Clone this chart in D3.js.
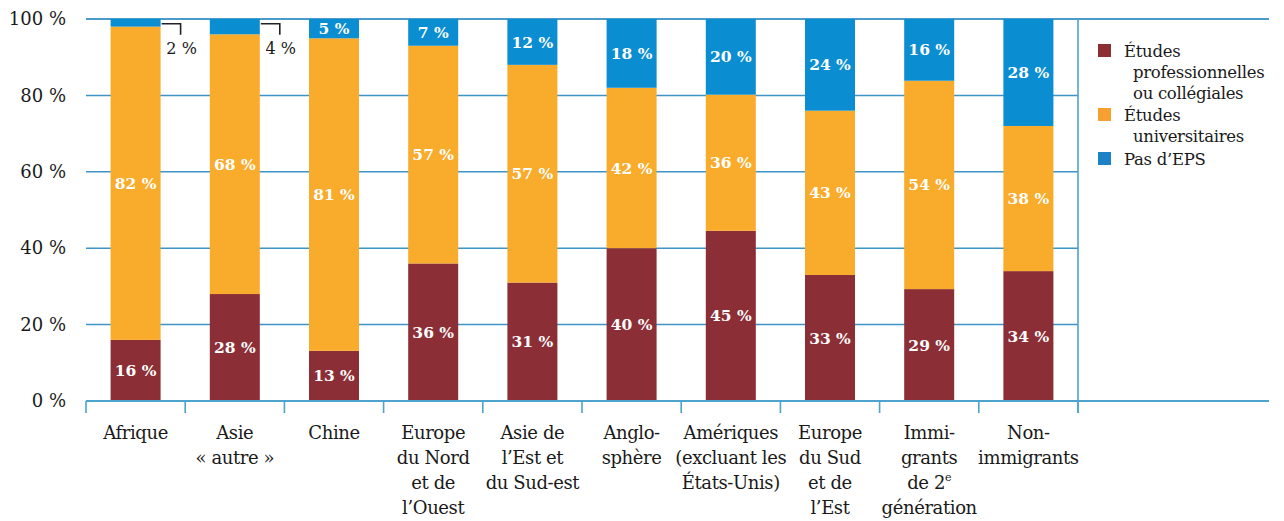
<!DOCTYPE html>
<html lang="fr">
<head>
<meta charset="utf-8">
<script src="https://cdn.jsdelivr.net/npm/d3@7"></script>
<style>
  html, body { margin: 0; padding: 0; background: #fff; }
  svg { display: block; font-family: "DejaVu Serif", "Liberation Serif", serif; }
</style>
</head>
<body>
<svg id="chart" width="1284" height="521"></svg>
<script>
// Origine des répondants
const categories = [
  "Afrique", "Asie autre", "Chine", "Europe du Nord et de l’Ouest",
  "Asie de l’Est et du Sud-est", "Anglosphère", "Amériques (excluant les États-Unis)",
  "Europe du Sud et de l’Est", "Immigrants de 2e génération", "Non-immigrants"
];
// Libellés de l'axe, ligne par ligne
const categoryLines = [
  ["Afrique"],
  ["Asie", "« autre »"],
  ["Chine"],
  ["Europe", "du Nord", "et de", "l’Ouest"],
  ["Asie de", "l’Est et", "du Sud-est"],
  ["Anglo-", "sphère"],
  ["Amériques", "(excluant les", "États-Unis)"],
  ["Europe", "du Sud", "et de", "l’Est"],
  ["Immi-", "grants", "de 2^e", "génération"],
  ["Non-", "immigrants"]
];

// Pourcentages par niveau d'études postsecondaires (EPS)
const professional = [16, 28, 13, 36, 31, 40, 45, 33, 29, 34];
const university   = [82, 68, 81, 57, 57, 42, 36, 43, 54, 38];
const noPSE        = [2, 4, 5, 7, 12, 18, 20, 24, 16, 28];

const seriesKeys = ["professional", "university", "noPSE"];
const seriesNames = [
  ["Études", "professionnelles", "ou collégiales"],
  ["Études", "universitaires"],
  ["Pas d’EPS"]
];
const yTicks = [0, 20, 40, 60, 80, 100];

const colors = ["#8b2e36", "#f9ab2b", "#0a8dd1"];
const legendColors = ["#8c2f35", "#f5a030", "#1d81c6"];
const gridColor = "#3d94c5";
const axisColor = "#4ea3cc";

const svg = d3.select("#chart");
const plot = { left: 86, right: 1078, top: 19, bottom: 401, outer: 1269 };

const x = d3.scaleBand().domain(categories).range([plot.left, plot.right]).padding(0);
const y = d3.scaleLinear().domain([0, 1]).range([plot.bottom, plot.top]);
const yPct = d3.scaleLinear().domain([0, 100]).range([plot.bottom, plot.top]);
const barW = x.bandwidth() * 0.504;

// Lignes de quadrillage
svg.append("g").selectAll("line")
  .data(yTicks.filter(t => t > 0 && t < 100))
  .join("line")
  .attr("x1", plot.left).attr("x2", plot.right)
  .attr("y1", d => yPct(d)).attr("y2", d => yPct(d))
  .attr("stroke", gridColor).attr("stroke-width", 1.5);

svg.append("line")
  .attr("x1", plot.left).attr("x2", plot.outer)
  .attr("y1", yPct(100)).attr("y2", yPct(100))
  .attr("stroke", "#4b9bca").attr("stroke-width", 2);

// Axe vertical (libellés seulement)
const yAxis = svg.append("g")
  .attr("transform", `translate(${plot.left},0)`)
  .call(d3.axisLeft(yPct).tickValues(yTicks).tickSize(0).tickPadding(20)
    .tickFormat(d => d + " %"));
yAxis.select(".domain").remove();
yAxis.selectAll("text")
  .attr("font-family", "DejaVu Serif, serif")
  .attr("font-size", 18)
  .attr("fill", "#1a1a1a");

// Barres empilées à 100 %
const rows = categories.map((c, i) => ({
  cat: c, professional: professional[i], university: university[i], noPSE: noPSE[i]
}));
const stacked = d3.stack().keys(seriesKeys).offset(d3.stackOffsetExpand)(rows);

const segs = [];
stacked.forEach((layer, s) => {
  layer.forEach(d => {
    segs.push({ cat: d.data.cat, s, v: d.data[layer.key], y0: d[0], y1: d[1] });
  });
});

svg.append("g").selectAll("rect")
  .data(segs)
  .join("rect")
  .attr("x", d => x(d.cat) + (x.bandwidth() - barW) / 2)
  .attr("width", barW)
  .attr("y", d => y(d.y1))
  .attr("height", d => y(d.y0) - y(d.y1))
  .attr("fill", d => colors[d.s]);

// Étiquettes de valeur dans les barres
const inside = segs.filter(d => d.v >= 5);
svg.append("g").selectAll("text")
  .data(inside)
  .join("text")
  .attr("x", d => x(d.cat) + x.bandwidth() / 2)
  .attr("y", d => (y(d.y0) + y(d.y1)) / 2)
  .attr("dy", "0.36em")
  .attr("text-anchor", "middle")
  .attr("font-size", 15.5)
  .attr("font-weight", "bold")
  .attr("fill", "#fff")
  .text(d => d.v + " %");

// Petites valeurs : renvoi à droite de la barre
const outside = segs.filter(d => d.v < 5);
const callouts = svg.append("g").selectAll("g")
  .data(outside)
  .join("g");
callouts.append("path")
  .attr("d", d => {
    const xr = x(d.cat) + (x.bandwidth() + barW) / 2;
    const yy = yPct(99) + 1;
    return `M${xr + 1},${yy}H${xr + 20}V${yy + 11}`;
  })
  .attr("fill", "none").attr("stroke", "#222").attr("stroke-width", 1.6);
callouts.append("text")
  .attr("x", d => x(d.cat) + (x.bandwidth() + barW) / 2 + 21)
  .attr("y", 54)
  .attr("text-anchor", "middle")
  .attr("font-size", 16)
  .attr("fill", "#1a1a1a")
  .text(d => d.v + " %");

// Axe horizontal
svg.append("line")
  .attr("x1", plot.left).attr("x2", plot.outer)
  .attr("y1", plot.bottom).attr("y2", plot.bottom)
  .attr("stroke", axisColor).attr("stroke-width", 2);

const edges = categories.map(c => x(c)).concat([plot.right]);
svg.append("g").selectAll("line")
  .data(edges)
  .join("line")
  .attr("x1", d => d).attr("x2", d => d)
  .attr("y1", plot.bottom).attr("y2", plot.bottom + 12)
  .attr("stroke", axisColor).attr("stroke-width", 1.6);

// Séparateur de la légende
svg.append("line")
  .attr("x1", plot.right).attr("x2", plot.right)
  .attr("y1", plot.top).attr("y2", plot.bottom + 12)
  .attr("stroke", axisColor).attr("stroke-width", 1.6);

// Libellés des catégories
const xl = svg.append("g").selectAll("text")
  .data(categories)
  .join("text")
  .attr("text-anchor", "middle")
  .attr("font-size", 18)
  .attr("letter-spacing", "-0.4")
  .attr("fill", "#1a1a1a")
  .attr("x", c => x(c) + x.bandwidth() / 2);

xl.each(function (c, i) {
  const t = d3.select(this);
  categoryLines[i].forEach((line, k) => {
    const ts = t.append("tspan")
      .attr("x", x(c) + x.bandwidth() / 2)
      .attr("y", 439 + k * 25);
    if (line.includes("^")) {
      const [a, b] = line.split("^");
      ts.append("tspan").text(a);
      ts.append("tspan").attr("font-size", 11).attr("dy", -8).text(b);
    } else {
      ts.text(line);
    }
  });
});

// Légende
const legend = svg.append("g");
const legendRows = [44, 108, 152];
seriesNames.forEach((lines, s) => {
  const top = legendRows[s];
  legend.append("rect")
    .attr("x", 1098).attr("y", top)
    .attr("width", 13).attr("height", 13)
    .attr("fill", legendColors[s]);
  lines.forEach((line, k) => {
    legend.append("text")
      .attr("x", k === 0 ? 1124 : 1133)
      .attr("y", top + 13 + k * 21)
      .attr("font-size", 16.5)
      .attr("letter-spacing", "-0.3")
      .attr("fill", "#1a1a1a")
      .text(line);
  });
});
</script>
</body>
</html>
